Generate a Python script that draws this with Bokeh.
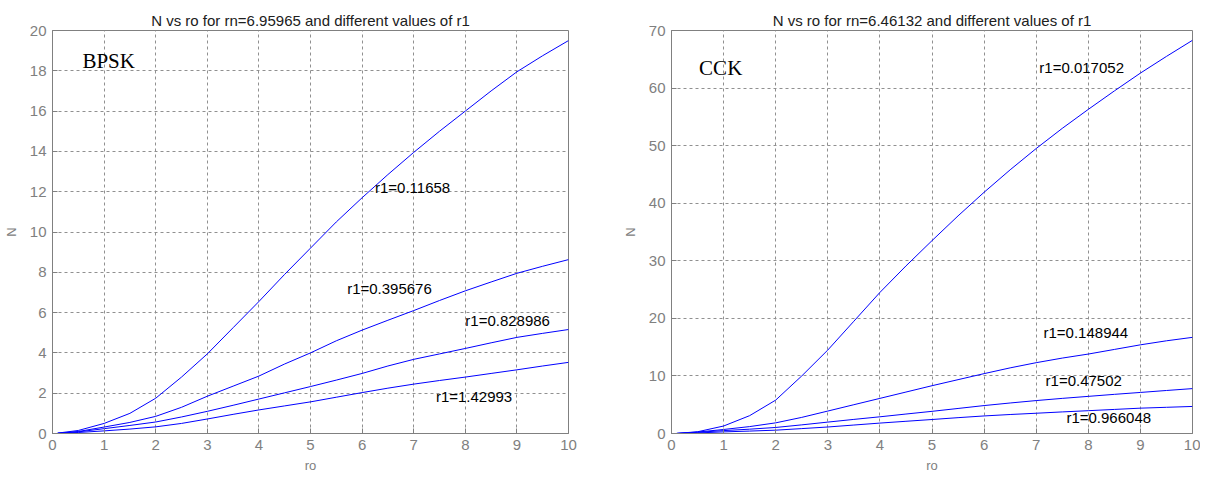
from bokeh.plotting import figure
from bokeh.layouts import row
from bokeh.models import Label, FixedTicker
from bokeh.embed import file_html
from bokeh.resources import INLINE

# ---- data ----
ro = [0.1, 0.5, 1, 1.5, 2, 2.5, 3, 3.5, 4, 4.5, 5, 5.5, 6, 6.5, 7, 7.5, 8, 8.5, 9, 9.5, 10]

# BPSK, rn = 6.95965
bpsk_r1 = ["0.11658", "0.395676", "0.828986", "1.42993"]
bpsk_a = [0.02, 0.15, 0.5, 1.0, 1.75, 2.8, 3.95, 5.25, 6.55, 7.9, 9.2, 10.5, 11.7, 12.85, 13.95, 15.0, 16.0, 17.0, 17.95, 18.75, 19.5]
bpsk_b = [0.01, 0.1, 0.32, 0.55, 0.85, 1.3, 1.85, 2.35, 2.85, 3.45, 4.0, 4.6, 5.13, 5.62, 6.1, 6.6, 7.08, 7.52, 7.95, 8.3, 8.63]
bpsk_c = [0.01, 0.08, 0.24, 0.4, 0.57, 0.82, 1.1, 1.4, 1.71, 2.02, 2.33, 2.65, 2.98, 3.35, 3.68, 3.95, 4.22, 4.5, 4.77, 4.97, 5.16]
bpsk_d = [0.005, 0.05, 0.13, 0.22, 0.33, 0.5, 0.72, 0.95, 1.17, 1.37, 1.57, 1.8, 2.03, 2.25, 2.45, 2.63, 2.8, 2.98, 3.16, 3.35, 3.53]

# CCK, rn = 6.46132
cck_r1 = ["0.017052", "0.148944", "0.47502", "0.966048"]
cck_e = [0.02, 0.3, 1.3, 3.1, 5.8, 10.0, 14.5, 19.5, 24.5, 29.1, 33.5, 37.8, 41.9, 45.8, 49.5, 53.0, 56.3, 59.5, 62.6, 65.5, 68.3]
cck_f = [0.01, 0.25, 0.7, 1.2, 1.85, 2.8, 3.9, 5.0, 6.1, 7.2, 8.3, 9.35, 10.4, 11.4, 12.3, 13.1, 13.8, 14.6, 15.4, 16.1, 16.7]
cck_g = [0.01, 0.2, 0.5, 0.75, 1.05, 1.5, 1.98, 2.45, 2.9, 3.38, 3.85, 4.35, 4.85, 5.3, 5.72, 6.1, 6.45, 6.8, 7.13, 7.47, 7.8]
cck_h = [0.005, 0.1, 0.28, 0.42, 0.58, 0.85, 1.13, 1.47, 1.81, 2.12, 2.43, 2.75, 3.05, 3.3, 3.52, 3.75, 3.96, 4.18, 4.4, 4.55, 4.7]

x_ticks = [0, 1, 2, 3, 4, 5, 6, 7, 8, 9, 10]
bpsk_y_ticks = [0, 2, 4, 6, 8, 10, 12, 14, 16, 18, 20]
cck_y_ticks = [0, 10, 20, 30, 40, 50, 60, 70]

# annotation placement (data coords)
bpsk_label_pos = [(6.25, 12.2), (5.71, 7.2), (8.0, 5.6), (7.43, 1.82)]
cck_label_pos = [(7.06, 63.5), (7.14, 17.5), (7.18, 9.2), (7.58, 2.7)]

GRAY = "#808080"
BLUE = "#0000ff"
SANS = "Liberation Sans"


def make_fig(title, ymax, yticks, width, mb_left, mb_right, mb_top, mb_bottom):
    p = figure(width=width, height=475, x_range=(0, 10), y_range=(0, ymax),
               output_backend="svg", toolbar_location=None, title=title,
               min_border_left=mb_left, min_border_right=mb_right,
               min_border_top=mb_top, min_border_bottom=mb_bottom)
    p.title.align = "center"
    p.title.text_font = SANS
    p.title.text_font_size = "15px"
    p.title.text_font_style = "normal"
    p.title.text_color = "#202020"
    p.title.standoff = 4
    p.xaxis.ticker = FixedTicker(ticks=x_ticks)
    p.yaxis.ticker = FixedTicker(ticks=yticks)
    for ax in (p.xaxis, p.yaxis):
        ax.major_label_text_font = SANS
        ax.major_label_text_font_size = "15px"
        ax.major_label_text_color = GRAY
        ax.axis_label_text_font = SANS
        ax.axis_label_text_font_size = "13px"
        ax.axis_label_text_font_style = "normal"
        ax.axis_label_text_color = GRAY
        ax.axis_line_color = GRAY
        ax.major_tick_line_color = GRAY
        ax.major_tick_in = 5
        ax.major_tick_out = 0
        ax.minor_tick_line_color = None
        ax.major_label_standoff = 6
    p.xaxis.axis_label = "ro"
    p.yaxis.axis_label = "N"
    p.xaxis.axis_label_standoff = 5
    p.yaxis.axis_label_standoff = 8
    p.xgrid.ticker = FixedTicker(ticks=x_ticks)
    p.ygrid.ticker = FixedTicker(ticks=yticks)
    for g in (p.xgrid, p.ygrid):
        g.grid_line_color = "#909090"
        g.grid_line_dash = "3 3"
        g.grid_line_width = 1
    p.outline_line_color = GRAY
    p.outline_line_alpha = 1
    p.background_fill_color = "white"
    p.border_fill_color = "white"
    return p


p1 = make_fig("N vs ro for rn=6.95965 and different values of r1", 20, bpsk_y_ticks, 612, 50, 44, 30, 38)
for ys in (bpsk_a, bpsk_b, bpsk_c, bpsk_d):
    p1.line(ro, ys, line_color=BLUE, line_width=1)
for name, (lx, ly) in zip(bpsk_r1, bpsk_label_pos):
    p1.add_layout(Label(x=lx, y=ly, text="r1=" + name, text_font=SANS, text_font_size="15px",
                        text_color="black", text_baseline="middle", text_align="left"))
p1.add_layout(Label(x=0.58, y=18.5, text="BPSK", text_font="Liberation Serif", text_font_size="21px",
                    text_color="black", text_baseline="middle", text_align="left"))

p2 = make_fig("N vs ro for rn=6.46132 and different values of r1", 70, cck_y_ticks, 588, 59, 8, 26, 37)
for ys in (cck_e, cck_f, cck_g, cck_h):
    p2.line(ro, ys, line_color=BLUE, line_width=1)
for name, (lx, ly) in zip(cck_r1, cck_label_pos):
    p2.add_layout(Label(x=lx, y=ly, text="r1=" + name, text_font=SANS, text_font_size="15px",
                        text_color="black", text_baseline="middle", text_align="left"))
p2.add_layout(Label(x=0.53, y=63.5, text="CCK", text_font="Liberation Serif", text_font_size="21px",
                    text_color="black", text_baseline="middle", text_align="left"))

layout = row(p1, p2)
open("out.html", "w").write(file_html(layout, INLINE))
